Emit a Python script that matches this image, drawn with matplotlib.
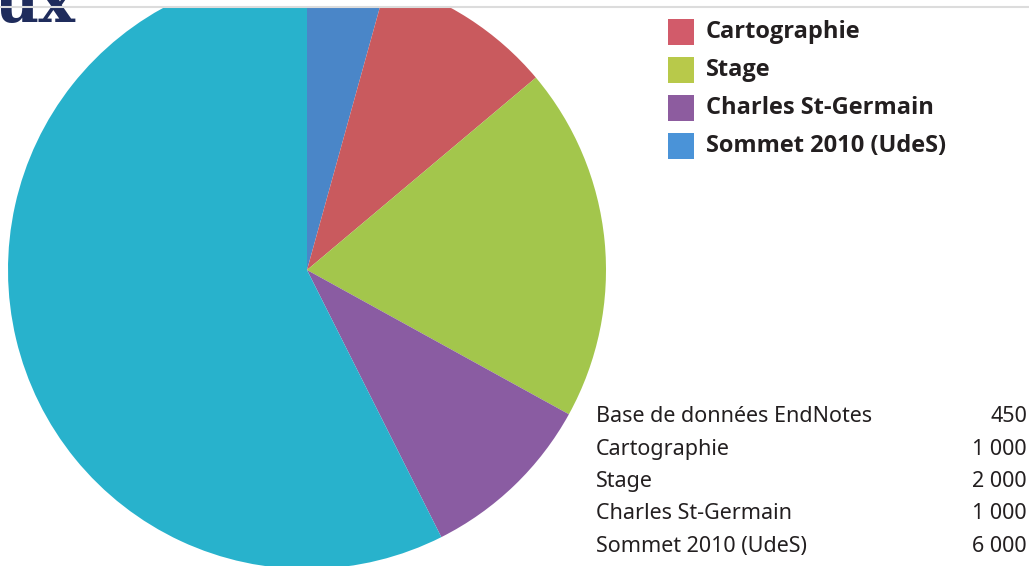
import matplotlib.pyplot as plt
from matplotlib.patches import Rectangle
from matplotlib.lines import Line2D

W, H = 1029, 566

# pie data (clockwise from 12 o'clock)
categories = ["Base de données EndNotes", "Cartographie", "Stage",
              "Charles St-Germain", "Sommet 2010 (UdeS)"]
values = [450, 1000, 2000, 1000, 6000]
value_labels = ["450", "1 000", "2 000", "1 000", "6 000"]
pie_colors = ["#4a86c8", "#c95a5e", "#a3c64c", "#8a5ca2", "#28b2cc"]

# legend as printed (first entry is off the page)
legend_labels = ["Cartographie", "Stage", "Charles St-Germain", "Sommet 2010 (UdeS)"]
legend_colors = ["#d25b6a", "#b8c94a", "#8d5c9f", "#4a93d8"]


def py(y):
    # pixel row -> data y
    return H - y


fig = plt.figure(figsize=(W / 100, H / 100), dpi=100)
ax = fig.add_axes([0, 0, 1, 1])

ax.pie(values, colors=pie_colors, startangle=90, counterclock=False,
       center=(307, py(270)), radius=299,
       wedgeprops=dict(linewidth=0))
ax.set_xlim(0, W)
ax.set_ylim(0, H)
ax.set_aspect("equal")
ax.axis("off")

# page edge at the top
ax.add_patch(Rectangle((0, py(6)), W, 6, facecolor="white", edgecolor="none", zorder=5))
fig.add_artist(Line2D([0, 1], [1 - 6.5 / H, 1 - 6.5 / H], color="#dcdcdc", lw=1.5, zorder=6))

# bit of the page title
ax.text(-5, py(22), "ux", fontsize=44, fontweight="bold", family="DejaVu Serif",
        color="#1f2c5c", ha="left", va="baseline", zorder=7)

# legend
for i, (lab, col) in enumerate(zip(legend_labels, legend_colors)):
    yc = 32 + i * 38
    ax.add_patch(Rectangle((668, py(yc + 13)), 26, 26, facecolor=col, edgecolor="none"))
    ax.text(706, py(yc), lab, fontsize=17, fontweight="bold", family="Open Sans",
            color="#231f20", ha="left", va="center")

# value table
for i, (lab, v) in enumerate(zip(categories, value_labels)):
    yc = 417 + i * 32.3
    ax.text(596, py(yc), lab, fontsize=15.5, family="Noto Sans", color="#231f20",
            ha="left", va="center")
    ax.text(1027, py(yc), v, fontsize=15.5, family="Noto Sans", color="#231f20",
            ha="right", va="center")

fig.savefig("out.png", dpi=100)
